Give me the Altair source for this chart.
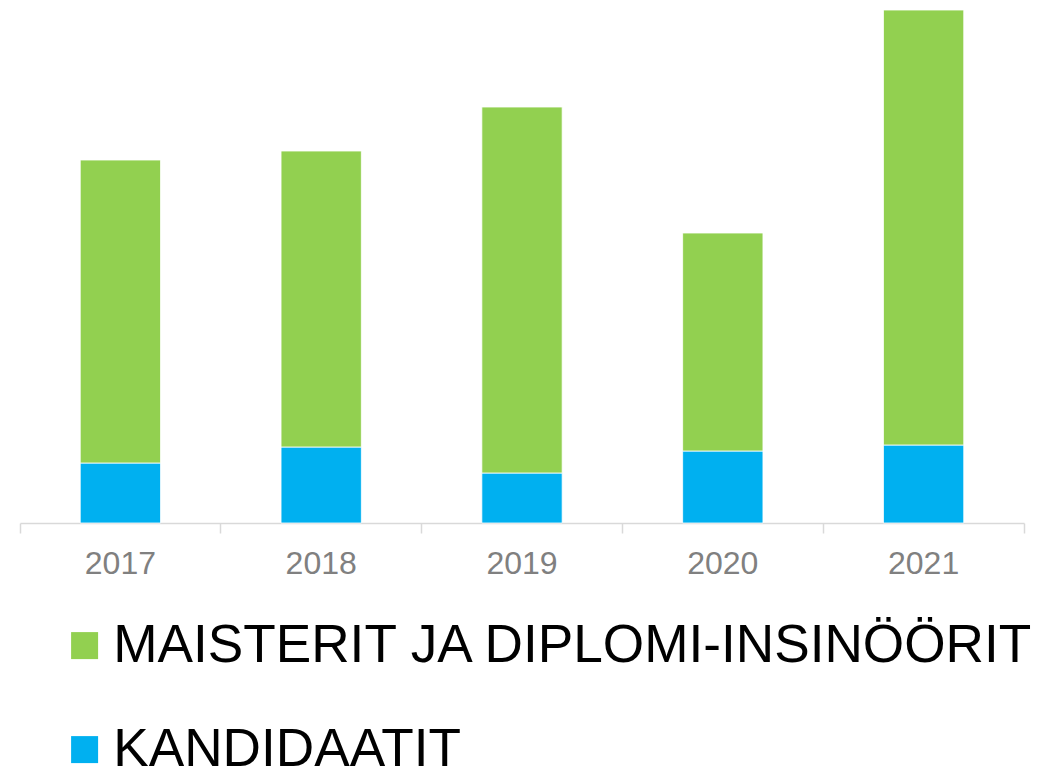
import altair as alt
import pandas as pd

years = ["2017", "2018", "2019", "2020", "2021"]
kandidaatit = [60, 76, 50, 72, 78]
maisterit = [303, 296, 366, 218, 435]
series = ["MAISTERIT JA DIPLOMI-INSINÖÖRIT", "KANDIDAATIT"]
colors = ["#92D050", "#00B0F0"]

rows = []
for i, y in enumerate(years):
    rows.append({"year": y, "series": series[1], "value": kandidaatit[i], "ord": 0})
    rows.append({"year": y, "series": series[0], "value": maisterit[i], "ord": 1})
df = pd.DataFrame(rows)

chart = alt.Chart(df).mark_bar(stroke="white", strokeWidth=0.8,
                               width=alt.RelativeBandSize(0.4)).encode(
    x=alt.X("year:N", title=None,
            scale=alt.Scale(paddingInner=0, paddingOuter=0),
            axis=alt.Axis(labelAngle=0, labelFontSize=32, labelColor="#808080",
                          labelFont="Liberation Sans", domainColor="#D9D9D9",
                          domainWidth=1.5, tickColor="#D9D9D9", tickWidth=1.5,
                          tickSize=10, labelPadding=15, bandPosition=1,
                          tickExtra=True)),
    y=alt.Y("value:Q", stack="zero", title=None,
            scale=alt.Scale(domain=[0, 513], nice=False), axis=None),
    color=alt.Color("series:N", scale=alt.Scale(domain=series, range=colors),
                    legend=alt.Legend(title=None, orient="none", legendX=38, legendY=609,
                                      symbolType="square", symbolSize=729,
                                      symbolStrokeWidth=0, labelFontSize=53.2,
                                      labelFont="Liberation Sans", labelColor="black",
                                      labelLimit=2000, rowPadding=50, labelOffset=2,
                                      direction="vertical")),
    order=alt.Order("ord:Q"),
).properties(
    width=1004, height=513,
    autosize=alt.AutoSizeParams(type="none"),
    padding={"left": 12, "top": 2, "right": 26, "bottom": 246},
).configure_view(stroke=None)

chart.save("out.html", embed_options={"renderer": "svg", "actions": False})
